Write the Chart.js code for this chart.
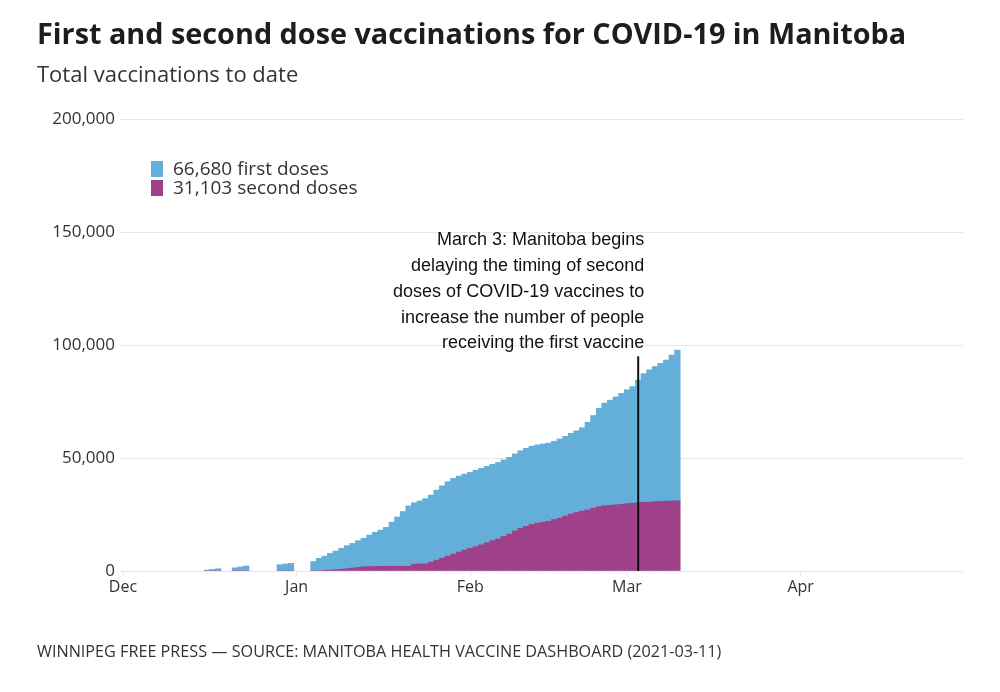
<!DOCTYPE html>
<html>
<head>
<meta charset="utf-8">
<script src="https://cdn.jsdelivr.net/npm/chart.js@4.4.1/dist/chart.umd.min.js"></script>
<style>
  body { margin: 0; background: #fff; font-family: 'Open Sans', sans-serif; }
  #wrap { position: relative; width: 1000px; height: 692px; overflow: hidden; }
  #chartBox { position: absolute; left: 0; top: 0; width: 1000px; height: 692px; }
  .txt { position: absolute; white-space: nowrap; line-height: 1; }
  #title { left: 37px; top: 19px; font-size: 28.8px; font-weight: 700; color: #1d1d1d; }
  #subtitle { left: 37px; top: 62px; font-size: 22px; color: #333; }
  #footer { left: 37px; top: 643px; font-size: 16.2px; color: #333; }
  .legItem { position: absolute; left: 151px; font-size: 19px; color: #333; white-space: nowrap; line-height: 1; }
  .legItem span.sw { position: absolute; left: 0; width: 12px; height: 16px; }
  .legItem span.lb { position: absolute; left: 22px; top: 0; }
</style>
</head>
<body>
<div id="wrap">
  <div id="chartBox"><canvas id="doseChart"></canvas></div>
  <div class="txt" id="title">First and second dose vaccinations for COVID-19 in Manitoba</div>
  <div class="txt" id="subtitle">Total vaccinations to date</div>
  <div class="txt" id="footer">WINNIPEG FREE PRESS — SOURCE: MANITOBA HEALTH VACCINE DASHBOARD (2021-03-11)</div>
  <div id="legend"></div>
</div>
<script>
// Days with reported doses
const dates = [
  '2020-12-16', '2020-12-17', '2020-12-18',
  '2020-12-21', '2020-12-22', '2020-12-23',
  '2020-12-29', '2020-12-30', '2020-12-31',
  '2021-01-04', '2021-01-05', '2021-01-06', '2021-01-07', '2021-01-08', '2021-01-09', '2021-01-10',
  '2021-01-11', '2021-01-12', '2021-01-13', '2021-01-14', '2021-01-15', '2021-01-16', '2021-01-17',
  '2021-01-18', '2021-01-19', '2021-01-20', '2021-01-21', '2021-01-22', '2021-01-23', '2021-01-24',
  '2021-01-25', '2021-01-26', '2021-01-27', '2021-01-28', '2021-01-29', '2021-01-30', '2021-01-31',
  '2021-02-01', '2021-02-02', '2021-02-03', '2021-02-04', '2021-02-05', '2021-02-06', '2021-02-07',
  '2021-02-08', '2021-02-09', '2021-02-10', '2021-02-11', '2021-02-12', '2021-02-13', '2021-02-14',
  '2021-02-15', '2021-02-16', '2021-02-17', '2021-02-18', '2021-02-19', '2021-02-20', '2021-02-21',
  '2021-02-22', '2021-02-23', '2021-02-24', '2021-02-25', '2021-02-26', '2021-02-27', '2021-02-28',
  '2021-03-01', '2021-03-02', '2021-03-03', '2021-03-04', '2021-03-05', '2021-03-06', '2021-03-07',
  '2021-03-08', '2021-03-09', '2021-03-10'
];

const firstDoses = [
  400, 700, 1000,
  1400, 1800, 2200,
  2800, 3100, 3400,
  4200, 5600, 6400, 7400, 8200, 9200, 10200,
  10900, 11800, 12600, 13900, 15100, 16000, 17200,
  19500, 21800, 24200, 26700, 27200, 27900, 28800,
  29700, 31000, 32000, 32900, 33500, 33600, 33600,
  33700, 33800, 33800, 33800, 33800, 33800, 33900,
  34000, 34100, 34300, 34500, 34600, 34600, 34600,
  34600, 34600, 35000, 35300, 35700, 36100, 36900,
  38800, 41000, 43500, 45400, 46500, 47700, 49100,
  50400, 51600, 54300, 56900, 58500, 59800, 61100,
  62400, 64500, 66680
];

const secondDoses = [
  0, 0, 0,
  0, 0, 0,
  0, 0, 0,
  0, 0, 200, 400, 600, 800, 1000,
  1300, 1600, 1900, 2000, 2000, 2100, 2100,
  2100, 2100, 2100, 2100, 3000, 3100, 3200,
  3900, 4800, 5700, 6600, 7500, 8400, 9300,
  10000, 10800, 11600, 12500, 13400, 14200, 15300,
  16300, 17700, 18900, 19800, 20600, 21200, 21600,
  22000, 22800, 23400, 24300, 25200, 25900, 26500,
  27000, 27800, 28500, 28900, 29100, 29300, 29500,
  29800, 30000, 30200, 30400, 30500, 30700, 30800,
  30900, 31000, 31103
];

const monthStarts = ['2020-12-01', '2021-01-01', '2021-02-01', '2021-03-01', '2021-04-01'];
const monthLabels = ['Dec', 'Jan', 'Feb', 'Mar', 'Apr'];
const axisEnd = '2021-04-30';
const yTicks = [0, 50000, 100000, 150000, 200000];

const legendLabels = ['66,680 first doses', '31,103 second doses'];

const noteDate = '2021-03-03';
const noteTop = 95000;
const noteLines = [
  'March 3: Manitoba begins',
  'delaying the timing of second',
  'doses of COVID-19 vaccines to',
  'increase the number of people',
  'receiving the first vaccine'
];

const BLUE = '#63afd9';
const PURPLE = '#9f4189';

function dayIndex(iso) {
  const p = iso.split('-').map(Number);
  return Math.round((Date.UTC(p[0], p[1] - 1, p[2]) - Date.UTC(2020, 11, 1)) / 86400000);
}

const days = dates.map(dayIndex);
const monthDays = monthStarts.map(dayIndex);

// legend
const legend = document.getElementById('legend');
[[BLUE, legendLabels[0], 159], [PURPLE, legendLabels[1], 178]].forEach(function (it) {
  const d = document.createElement('div');
  d.className = 'legItem';
  d.style.top = it[2] + 'px';
  d.innerHTML = '<span class="sw" style="background:' + it[0] + ';top:2px"></span><span class="lb"></span>';
  d.querySelector('.lb').textContent = it[1];
  legend.appendChild(d);
});

// annotation: vertical rule plus right-aligned note
const notePlugin = {
  id: 'note',
  afterDatasetsDraw(chart) {
    const x = chart.scales.x.getPixelForValue(dayIndex(noteDate));
    const yTop = chart.scales.y.getPixelForValue(noteTop);
    const yBot = chart.scales.y.getPixelForValue(0);
    const ctx = chart.ctx;
    ctx.save();
    ctx.strokeStyle = '#111';
    ctx.lineWidth = 2;
    ctx.beginPath();
    ctx.moveTo(x, yTop);
    ctx.lineTo(x, yBot);
    ctx.stroke();
    ctx.fillStyle = '#111';
    ctx.font = '18px "Liberation Sans", Arial, sans-serif';
    ctx.textAlign = 'right';
    ctx.textBaseline = 'middle';
    const n = noteLines.length;
    noteLines.forEach(function (line, i) {
      ctx.fillText(line, x + 6, yTop - 13 - (n - 1 - i) * 25.75);
    });
    ctx.restore();
  }
};

new Chart(document.getElementById('doseChart'), {
  type: 'bar',
  data: {
    datasets: [
      {
        label: 'second doses',
        data: days.map((d, i) => ({ x: d, y: secondDoses[i] })),
        backgroundColor: PURPLE,
        borderWidth: 0,
        barPercentage: 1,
        categoryPercentage: 1
      },
      {
        label: 'first doses',
        data: days.map((d, i) => ({ x: d, y: firstDoses[i] })),
        backgroundColor: BLUE,
        borderWidth: 0,
        barPercentage: 1,
        categoryPercentage: 1
      }
    ]
  },
  options: {
    responsive: true,
    maintainAspectRatio: false,
    animation: false,
    layout: { padding: { left: 0, right: 37, top: 119, bottom: 0 } },
    scales: {
      x: {
        type: 'linear',
        stacked: true,
        offset: false,
        min: 0,
        max: dayIndex(axisEnd),
        afterBuildTicks: function (scale) {
          scale.ticks = monthDays.map(v => ({ value: v }));
        },
        afterFit: function (scale) { scale.height = 121; },
        ticks: {
          autoSkip: false,
          maxRotation: 0,
          padding: 2,
          color: '#333',
          font: { family: 'Open Sans', size: 16 },
          callback: function (v) {
            const k = monthDays.indexOf(v);
            return k >= 0 ? monthLabels[k] : '';
          }
        },
        grid: { display: true, offset: false, drawOnChartArea: false, drawTicks: true, tickLength: 5, color: '#e2e2e2' },
        border: { display: false }
      },
      y: {
        stacked: true,
        min: 0,
        max: 200000,
        afterBuildTicks: function (scale) {
          scale.ticks = yTicks.map(v => ({ value: v }));
        },
        afterFit: function (scale) { scale.width = 123; },
        ticks: {
          padding: 5,
          color: '#333',
          font: { family: 'Open Sans', size: 17 },
          callback: v => v.toLocaleString('en-US')
        },
        grid: { color: '#e8e8e8', drawTicks: true, tickLength: 3 },
        border: { display: false }
      }
    },
    plugins: {
      legend: { display: false },
      tooltip: { enabled: false }
    }
  },
  plugins: [notePlugin]
});
</script>
</body>
</html>
